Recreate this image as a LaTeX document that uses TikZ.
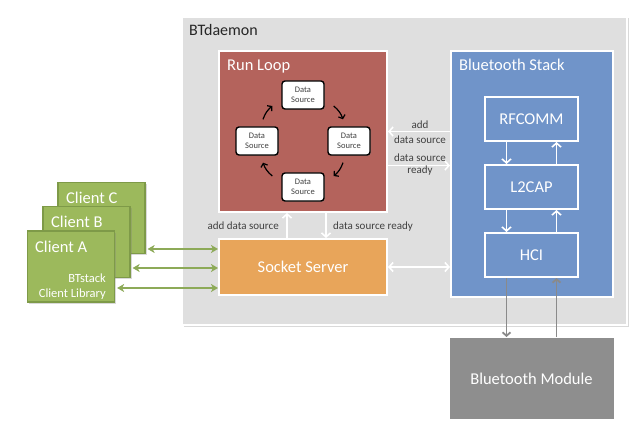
\documentclass[tikz,border=0pt]{standalone}
\usepackage{fontspec}
\setmainfont{Carlito}
\usetikzlibrary{arrows.meta,shadows}

\definecolor{daemongray}{HTML}{DFDFDF}
\definecolor{loopred}{HTML}{B4635C}
\definecolor{stackblue}{HTML}{7094C9}
\definecolor{serverorange}{HTML}{E8A55A}
\definecolor{modulegray}{HTML}{8E8E8E}
\definecolor{clientgreen}{HTML}{9CB95C}
\definecolor{clientedge}{HTML}{7E9A48}
\definecolor{linkgreen}{HTML}{8DAA58}
\definecolor{linkgray}{HTML}{8A8A8A}

\begin{document}
\begin{tikzpicture}[x=1pt,y=-1pt]

	\tikzstyle panel=[draw=white, line width=2pt, inner sep=0pt, text=white, font=\fontsize{16.5}{18}\selectfont];
	\tikzstyle layer=[panel, fill=stackblue, minimum width=93pt, minimum height=44pt];
	\tikzstyle panel title=[anchor=base west, inner sep=0pt, text=white, font=\fontsize{16.5}{18}\selectfont];
	\tikzstyle client=[draw=clientedge, line width=1.2pt, fill=clientgreen, minimum width=87pt, minimum height=71pt, drop shadow={opacity=.3, shadow xshift=1.5pt, shadow yshift=-1.5pt}];
	\tikzstyle ds box=[draw=black, line width=1.4pt, fill=white, rounded corners=3pt, minimum width=42pt, minimum height=28pt, inner sep=0pt, align=center, text=black!75, font=\fontsize{8.5}{10}\selectfont, drop shadow={opacity=.35, shadow xshift=1pt, shadow yshift=-1pt}];
	\tikzstyle note=[inner sep=0pt, text=black!75, font=\fontsize{11}{14}\selectfont];
	\tikzstyle white arrow=[-{Straight Barb[length=4pt,width=9pt]}, draw=white, line width=1.6pt];
	\tikzstyle loop arrow=[-{Straight Barb[length=3pt,width=7pt]}, draw=black, line width=1.2pt];
	\tikzstyle green arrow=[{Stealth[length=7pt,width=8pt,inset=2pt]}-{Stealth[length=7pt,width=8pt,inset=2pt]}, draw=linkgreen, line width=2pt, shorten <=2pt];
	\tikzstyle gray arrow=[draw=linkgray, line width=1.8pt];

	\useasboundingbox (0,0) rectangle (640,433);

	% daemon
	\node[panel, fill=daemongray, minimum width=445pt, minimum height=308pt, drop shadow={opacity=.3, shadow xshift=1.5pt, shadow yshift=-1.5pt}] (daemon) at (404.5,171) {};
	\node[anchor=base west, inner sep=0pt, text=black!85, font=\fontsize{16}{18}\selectfont] (daemonlabel) at (189,36) {BTdaemon};

	% run loop
	\node[panel, fill=loopred, minimum width=168pt, minimum height=161pt] (runloop) at (303,131.5) {};
	\node[panel title] (runlooplabel) at (227,71) {Run Loop};
	\node[ds box] (dstop) at (303,95) {Data\\Source};
	\node[ds box] (dsright) at (349,141) {Data\\Source};
	\node[ds box] (dsbottom) at (303,187) {Data\\Source};
	\node[ds box] (dsleft) at (257,141) {Data\\Source};
	\draw[loop arrow] ([shift={(9,11)}]dstop.east) to[bend left=15] ([shift={(-6,-7)}]dsright.north);
	\draw[loop arrow] ([shift={(-6,7)}]dsright.south) to[bend left=15] ([shift={(9,-11)}]dsbottom.east);
	\draw[loop arrow] ([shift={(-9,-11)}]dsbottom.west) to[bend left=15] ([shift={(6,7)}]dsleft.south);
	\draw[loop arrow] ([shift={(6,-7)}]dsleft.north) to[bend left=15] ([shift={(-9,11)}]dstop.west);

	% bluetooth stack
	\node[panel, fill=stackblue, minimum width=162pt, minimum height=246pt] (stack) at (532,174) {};
	\node[panel title] (stacklabel) at (459,71) {Bluetooth Stack};
	\node[layer] (rfcomm) at (531.5,119) {RFCOMM};
	\node[layer] (l2cap) at (531.5,187) {L2CAP};
	\node[layer] (hci) at (531.5,255) {HCI};
	\draw[white arrow] ([xshift=-25pt]rfcomm.south) -- ([xshift=-25pt]l2cap.north);
	\draw[white arrow] ([xshift=25pt]l2cap.north) -- ([xshift=25pt]rfcomm.south);
	\draw[white arrow] ([xshift=-25pt]l2cap.south) -- ([xshift=-25pt]hci.north);
	\draw[white arrow] ([xshift=25pt]hci.north) -- ([xshift=25pt]l2cap.south);

	% socket server
	\node[panel, fill=serverorange, minimum width=168pt, minimum height=56pt] (server) at (303,267) {Socket Server};
	\draw[white arrow] ([xshift=-16pt]server.north) -- ([xshift=-16pt]runloop.south);
	\draw[white arrow] ([xshift=23pt]runloop.south) -- ([xshift=23pt]server.north);
	\node[note, anchor=base east] (addlabel) at (279,229) {add data source};
	\node[note, anchor=base west] (readylabel) at (333,229) {data source ready};
	\draw[white arrow, {Straight Barb[length=4pt,width=9pt]}-{Straight Barb[length=4pt,width=9pt]}] (server.east) -- (server.east -| stack.west);

	% run loop <-> stack
	\coordinate (readyout) at ([yshift=-34pt]runloop.east);
	\draw[white arrow] (stack.west |- runloop.east) -- (runloop.east);
	\draw[white arrow] (readyout) -- (readyout -| stack.west);
	\node[note, anchor=base] (addtop) at (420,129) {add};
	\node[note, anchor=base] (addbottom) at (420,143) {data source};
	\node[note, anchor=base] (readytop) at (420,162) {data source};
	\node[note, anchor=base] (readybottom) at (420,174) {ready};

	% module
	\node[panel, draw=none, fill=modulegray, minimum width=164pt, minimum height=81pt] (module) at (531.5,378.5) {Bluetooth Module};
	\draw[gray arrow, -{Straight Barb[length=3.5pt,width=8pt]}] ([xshift=-25pt]hci.south) -- ([xshift=-25pt]module.north);
	\draw[gray arrow, -{Straight Barb[length=3.5pt,width=8pt]}] ([xshift=25pt]module.north) -- ([xshift=25pt]hci.south);

	% clients
	\node[client] (clientc) at (101.5,218) {};
	\node[panel title] (clientclabel) at (66,204) {Client C};
	\node[client] (clientb) at (86.5,242) {};
	\node[panel title] (clientblabel) at (51,227) {Client B};
	\node[client] (clienta) at (71,266.5) {};
	\node[panel title] (clientalabel) at (35,252) {Client A};
	\node[anchor=south east, align=right, inner sep=0pt, text=white, font=\fontsize{12.5}{15}\selectfont] (library) at (106,300) {BTstack\\Client Library};

	\coordinate (c1) at ([yshift=18pt]server.west);
	\coordinate (c2) at ([yshift=-1pt]server.west);
	\coordinate (c3) at ([yshift=-21pt]server.west);
	\draw[green arrow] (clientc.east |- c1) -- (c1);
	\draw[green arrow] (clientb.east |- c2) -- (c2);
	\draw[green arrow] (clienta.east |- c3) -- (c3);

\end{tikzpicture}
\end{document}
